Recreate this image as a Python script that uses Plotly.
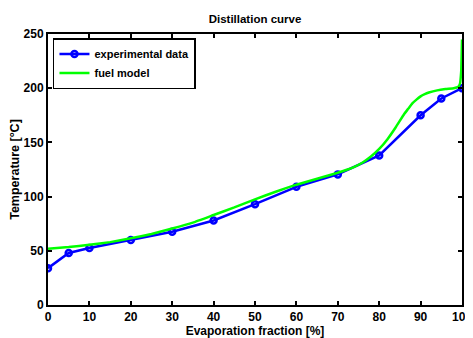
import plotly.graph_objects as go

# Experimental data
exp_x = [0, 5, 10, 20, 30, 40, 50, 60, 70, 80, 90, 95, 100]
exp_y = [34, 48, 52.5, 60, 67.5, 78, 93, 109, 120.5, 138, 175, 190.5, 200]

# Fuel model curve
mod_x = [0, 5, 10, 15, 20, 25, 30, 35, 40, 45, 50, 55, 60, 65, 70, 72, 74, 76, 78, 80,
         82, 84, 86, 87, 88, 89, 90, 91, 92, 94, 96, 98, 99, 99.5, 99.8, 100]
mod_y = [52, 53.5, 55.5, 58, 61.5, 65.5, 70.5, 76, 83, 90, 97.5, 104.5, 111, 116.5,
         122, 124.5, 127.5, 131.5, 137, 144, 153, 164, 176, 181, 186, 189.5, 192.5,
         194.5, 196, 198, 199.2, 200, 201, 204, 215, 245]

x_ticks = [0, 10, 20, 30, 40, 50, 60, 70, 80, 90, 100]
y_ticks = [0, 50, 100, 150, 200, 250]

font = "Liberation Sans, Arial, sans-serif"

# page body has an 8px margin, so the figure is sized/offset to compensate
W, H = 465, 330

fig = go.Figure()
fig.add_trace(go.Scatter(
    x=exp_x, y=exp_y, mode="lines+markers", name="<b>experimental data</b>",
    line=dict(color="#0000ff", width=2.5),
    marker=dict(symbol="circle-open", size=6, color="#0000ff", line=dict(width=2.5, color="#0000ff")),
))
fig.add_trace(go.Scatter(
    x=mod_x, y=mod_y, mode="lines", name="<b>fuel model</b>",
    line=dict(color="#00ff00", width=2.5, shape="spline", smoothing=0.3),
))

axis_common = dict(
    showline=True, linecolor="black", linewidth=2, mirror="ticks",
    ticks="inside", ticklen=4, tickwidth=1.5, tickcolor="black",
    showgrid=False, zeroline=False, automargin=False,
    tickfont=dict(family=font, size=12, color="black", weight="bold"),
)

fig.update_layout(
    width=W, height=H,
    margin=dict(l=39.5, r=10.5, t=26, b=33),
    paper_bgcolor="white", plot_bgcolor="white",
    font=dict(family=font, color="black"),
    title=dict(text="<b>Distillation curve</b>", x=0.5, xref="paper", y=1 - 11 / H,
               yref="container", xanchor="center", yanchor="middle",
               font=dict(family=font, size=11.5, color="black")),
    showlegend=True,
    legend=dict(x=0.012, y=0.985, xanchor="left", yanchor="top",
                bordercolor="black", borderwidth=1.5, bgcolor="white",
                font=dict(family=font, size=11, color="black"),
                tracegroupgap=0, itemwidth=30),
    xaxis=dict(range=[0, 100], tickvals=x_ticks, ticktext=[str(v) for v in x_ticks],
               title=dict(text="<b>Evaporation fraction [%]</b>", standoff=3,
                          font=dict(family=font, size=12, color="black")),
               **axis_common),
    yaxis=dict(range=[0, 250], tickvals=y_ticks, ticktext=[str(v) for v in y_ticks],
               title=dict(text="<b>Temperature [°C]</b>", standoff=4,
                          font=dict(family=font, size=12.5, color="black")),
               **axis_common),
)

fig.write_html("out.html")
